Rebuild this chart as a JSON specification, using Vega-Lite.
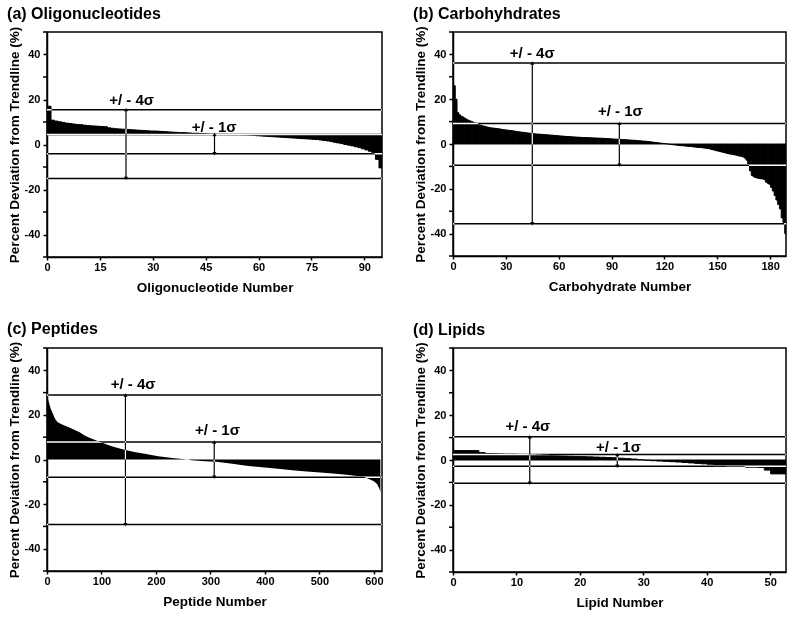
{
  "$schema": "https://vega.github.io/schema/vega-lite/v6.json",
  "background": "white",
  "padding": {"left": 6, "top": 5, "right": 4, "bottom": 2},
  "config": {
    "font": "Liberation Sans",
    "view": {"stroke": "black", "strokeWidth": 1.5},
    "axis": {"grid": false, "domainColor": "black", "domainWidth": 1.5, "tickColor": "black", "tickWidth": 1.5, "labelFont": "Liberation Sans", "labelFontSize": 11, "labelFontWeight": "bold", "labelColor": "black", "titleFont": "Liberation Sans", "titleFontSize": 13.5, "titleFontWeight": "bold", "titleColor": "black"},
    "axisX": {"labelFlush": false, "titlePadding": 8, "tickSize": 3, "labelPadding": 1},
    "axisY": {"titlePadding": 3, "tickSize": 4, "labelPadding": 3},
    "title": {"font": "Liberation Sans", "fontSize": 16, "fontWeight": "bold", "anchor": "start", "color": "black", "offset": 4}
  },
  "datasets": {
    "a": [{"i":0,"v":17},{"i":1,"v":10.8},{"i":2,"v":10.4},{"i":3,"v":10.1},{"i":4,"v":9.8},{"i":5,"v":9.5},{"i":6,"v":9.3},{"i":7,"v":9.1},{"i":8,"v":8.9},{"i":9,"v":8.8},{"i":10,"v":8.6},{"i":11,"v":8.4},{"i":12,"v":8.3},{"i":13,"v":8.2},{"i":14,"v":8.1},{"i":15,"v":8.0},{"i":16,"v":7.9},{"i":17,"v":7.4},{"i":18,"v":7.2},{"i":19,"v":7.0},{"i":20,"v":6.9},{"i":21,"v":6.8},{"i":22,"v":6.7},{"i":23,"v":6.6},{"i":24,"v":6.5},{"i":25,"v":6.4},{"i":26,"v":6.3},{"i":27,"v":6.2},{"i":28,"v":6.1},{"i":29,"v":6.0},{"i":30,"v":6.0},{"i":31,"v":5.9},{"i":32,"v":5.8},{"i":33,"v":5.7},{"i":34,"v":5.6},{"i":35,"v":5.5},{"i":36,"v":5.4},{"i":37,"v":5.3},{"i":38,"v":5.3},{"i":39,"v":5.2},{"i":40,"v":5.1},{"i":41,"v":5.0},{"i":42,"v":5.0},{"i":43,"v":4.9},{"i":44,"v":4.8},{"i":45,"v":4.7},{"i":46,"v":4.6},{"i":47,"v":4.6},{"i":48,"v":4.5},{"i":49,"v":4.5},{"i":50,"v":4.5},{"i":51,"v":4.4},{"i":52,"v":4.4},{"i":53,"v":4.4},{"i":54,"v":4.4},{"i":55,"v":4.3},{"i":56,"v":4.3},{"i":57,"v":4.2},{"i":58,"v":4.1},{"i":59,"v":3.9},{"i":60,"v":3.8},{"i":61,"v":3.7},{"i":62,"v":3.6},{"i":63,"v":3.5},{"i":64,"v":3.4},{"i":65,"v":3.3},{"i":66,"v":3.2},{"i":67,"v":3.1},{"i":68,"v":3.0},{"i":69,"v":2.9},{"i":70,"v":2.8},{"i":71,"v":2.7},{"i":72,"v":2.6},{"i":73,"v":2.5},{"i":74,"v":2.4},{"i":75,"v":2.3},{"i":76,"v":2.2},{"i":77,"v":2.0},{"i":78,"v":1.8},{"i":79,"v":1.6},{"i":80,"v":1.3},{"i":81,"v":1.0},{"i":82,"v":0.7},{"i":83,"v":0.4},{"i":84,"v":0.0},{"i":85,"v":-0.3},{"i":86,"v":-0.6},{"i":87,"v":-1.0},{"i":88,"v":-1.4},{"i":89,"v":-1.9},{"i":90,"v":-2.4},{"i":91,"v":-3.0},{"i":92,"v":-3.7},{"i":93,"v":-6.6},{"i":94,"v":-10.4}],
    "b": [{"i":0,"v":26},{"i":1,"v":20},{"i":2,"v":14},{"i":3,"v":13},{"i":4,"v":12.4},{"i":5,"v":12},{"i":6,"v":11.5},{"i":7,"v":11},{"i":8,"v":10.6},{"i":9,"v":10.3},{"i":10,"v":10},{"i":11,"v":9.6},{"i":12,"v":9.3},{"i":13,"v":9},{"i":14,"v":8.7},{"i":15,"v":8.4},{"i":16,"v":8.1},{"i":17,"v":7.9},{"i":18,"v":7.7},{"i":19,"v":7.5},{"i":20,"v":7.3},{"i":21,"v":7.2},{"i":22,"v":7.1},{"i":23,"v":7},{"i":24,"v":6.9},{"i":25,"v":6.8},{"i":26,"v":6.7},{"i":27,"v":6.5},{"i":28,"v":6.4},{"i":29,"v":6.3},{"i":30,"v":6.2},{"i":31,"v":6.1},{"i":32,"v":6},{"i":33,"v":5.9},{"i":34,"v":5.8},{"i":35,"v":5.6},{"i":36,"v":5.5},{"i":37,"v":5.4},{"i":38,"v":5.3},{"i":39,"v":5.2},{"i":40,"v":5.1},{"i":41,"v":5},{"i":42,"v":4.9},{"i":43,"v":4.8},{"i":44,"v":4.7},{"i":45,"v":4.6},{"i":46,"v":4.5},{"i":47,"v":4.45},{"i":48,"v":4.4},{"i":49,"v":4.35},{"i":50,"v":4.3},{"i":51,"v":4.2},{"i":52,"v":4.15},{"i":53,"v":4.1},{"i":54,"v":4},{"i":55,"v":3.95},{"i":56,"v":3.9},{"i":57,"v":3.8},{"i":58,"v":3.75},{"i":59,"v":3.7},{"i":60,"v":3.6},{"i":61,"v":3.55},{"i":62,"v":3.5},{"i":63,"v":3.4},{"i":64,"v":3.35},{"i":65,"v":3.3},{"i":66,"v":3.25},{"i":67,"v":3.2},{"i":68,"v":3.15},{"i":69,"v":3.1},{"i":70,"v":3.05},{"i":71,"v":3},{"i":72,"v":2.95},{"i":73,"v":2.9},{"i":74,"v":2.9},{"i":75,"v":2.85},{"i":76,"v":2.8},{"i":77,"v":2.8},{"i":78,"v":2.75},{"i":79,"v":2.7},{"i":80,"v":2.7},{"i":81,"v":2.65},{"i":82,"v":2.6},{"i":83,"v":2.6},{"i":84,"v":2.55},{"i":85,"v":2.5},{"i":86,"v":2.45},{"i":87,"v":2.4},{"i":88,"v":2.35},{"i":89,"v":2.3},{"i":90,"v":2.25},{"i":91,"v":2.2},{"i":92,"v":2.15},{"i":93,"v":2.1},{"i":94,"v":2.05},{"i":95,"v":2},{"i":96,"v":1.95},{"i":97,"v":1.9},{"i":98,"v":1.85},{"i":99,"v":1.8},{"i":100,"v":1.75},{"i":101,"v":1.7},{"i":102,"v":1.65},{"i":103,"v":1.6},{"i":104,"v":1.5},{"i":105,"v":1.45},{"i":106,"v":1.4},{"i":107,"v":1.3},{"i":108,"v":1.25},{"i":109,"v":1.2},{"i":110,"v":1.1},{"i":111,"v":1},{"i":112,"v":0.9},{"i":113,"v":0.8},{"i":114,"v":0.7},{"i":115,"v":0.6},{"i":116,"v":0.5},{"i":117,"v":0.4},{"i":118,"v":0.3},{"i":119,"v":0.2},{"i":120,"v":0.1},{"i":121,"v":0.02},{"i":122,"v":-0.1},{"i":123,"v":-0.2},{"i":124,"v":-0.3},{"i":125,"v":-0.4},{"i":126,"v":-0.5},{"i":127,"v":-0.6},{"i":128,"v":-0.7},{"i":129,"v":-0.75},{"i":130,"v":-0.8},{"i":131,"v":-0.9},{"i":132,"v":-1},{"i":133,"v":-1.05},{"i":134,"v":-1.1},{"i":135,"v":-1.2},{"i":136,"v":-1.3},{"i":137,"v":-1.4},{"i":138,"v":-1.5},{"i":139,"v":-1.55},{"i":140,"v":-1.6},{"i":141,"v":-1.7},{"i":142,"v":-1.8},{"i":143,"v":-1.9},{"i":144,"v":-2},{"i":145,"v":-2.2},{"i":146,"v":-2.4},{"i":147,"v":-2.6},{"i":148,"v":-2.8},{"i":149,"v":-3},{"i":150,"v":-3.2},{"i":151,"v":-3.4},{"i":152,"v":-3.6},{"i":153,"v":-3.8},{"i":154,"v":-4},{"i":155,"v":-4.2},{"i":156,"v":-4.4},{"i":157,"v":-4.5},{"i":158,"v":-4.7},{"i":159,"v":-4.8},{"i":160,"v":-5},{"i":161,"v":-5.2},{"i":162,"v":-5.4},{"i":163,"v":-5.5},{"i":164,"v":-5.8},{"i":165,"v":-6.3},{"i":166,"v":-7.2},{"i":167,"v":-9},{"i":168,"v":-12},{"i":169,"v":-14},{"i":170,"v":-14.6},{"i":171,"v":-15},{"i":172,"v":-15.2},{"i":173,"v":-15.4},{"i":174,"v":-15.5},{"i":175,"v":-15.6},{"i":176,"v":-15.8},{"i":177,"v":-17},{"i":178,"v":-17.5},{"i":179,"v":-18},{"i":180,"v":-19.4},{"i":181,"v":-21},{"i":182,"v":-23},{"i":183,"v":-25},{"i":184,"v":-27},{"i":185,"v":-29},{"i":186,"v":-33},{"i":187,"v":-35},{"i":188,"v":-40}],
    "c": [{"i":0,"v":29.5},{"i":1,"v":28},{"i":3,"v":26},{"i":7,"v":22.7},{"i":10,"v":21},{"i":13.5,"v":19},{"i":16,"v":17.8},{"i":19.6,"v":16.7},{"i":25,"v":16},{"i":32,"v":15.3},{"i":40,"v":14.5},{"i":50,"v":13.3},{"i":60,"v":12.2},{"i":69,"v":10.8},{"i":80,"v":9.5},{"i":93,"v":8.3},{"i":105,"v":7.2},{"i":120,"v":5.8},{"i":142,"v":4.4},{"i":160,"v":3.4},{"i":182,"v":2.5},{"i":204,"v":1.5},{"i":230,"v":0.7},{"i":253,"v":0.15},{"i":258,"v":0},{"i":265,"v":-0.3},{"i":290,"v":-0.8},{"i":311,"v":-1},{"i":340,"v":-1.9},{"i":366,"v":-2.8},{"i":400,"v":-3.6},{"i":428,"v":-4.3},{"i":460,"v":-5},{"i":489,"v":-5.6},{"i":520,"v":-6.2},{"i":550,"v":-6.8},{"i":581,"v":-7.7},{"i":593,"v":-9},{"i":600,"v":-9.8},{"i":606,"v":-11},{"i":610,"v":-13},{"i":612,"v":-14.5}],
    "d": [{"i":0,"v":4.2},{"i":1,"v":4.2},{"i":2,"v":4.2},{"i":3,"v":4.2},{"i":4,"v":3.3},{"i":5,"v":2.9},{"i":6,"v":2.8},{"i":7,"v":2.7},{"i":8,"v":2.6},{"i":9,"v":2.6},{"i":10,"v":2.5},{"i":11,"v":2.4},{"i":12,"v":2.3},{"i":13,"v":2.2},{"i":14,"v":2.1},{"i":15,"v":2},{"i":16,"v":1.9},{"i":17,"v":1.8},{"i":18,"v":1.7},{"i":19,"v":1.6},{"i":20,"v":1.5},{"i":21,"v":1.4},{"i":22,"v":1.3},{"i":23,"v":1.2},{"i":24,"v":1.1},{"i":25,"v":1},{"i":26,"v":0.8},{"i":27,"v":0.6},{"i":28,"v":0.4},{"i":29,"v":0.1},{"i":30,"v":-0.1},{"i":31,"v":-0.3},{"i":32,"v":-0.45},{"i":33,"v":-0.6},{"i":34,"v":-0.75},{"i":35,"v":-0.9},{"i":36,"v":-1.1},{"i":37,"v":-1.3},{"i":38,"v":-1.5},{"i":39,"v":-1.7},{"i":40,"v":-1.9},{"i":41,"v":-2.5},{"i":42,"v":-2.5},{"i":43,"v":-2.6},{"i":44,"v":-2.6},{"i":45,"v":-2.6},{"i":46,"v":-3.2},{"i":47,"v":-3.2},{"i":48,"v":-3.3},{"i":49,"v":-4.5},{"i":50,"v":-6.2},{"i":51,"v":-6.2},{"i":52,"v":-6.2}],
    "minor": [{"t":-50},{"t":-30},{"t":-10},{"t":10},{"t":30},{"t":50}],
    "lines": [{"panel":"a","y":15.5},{"panel":"a","y":4.4},{"panel":"a","y":-4.1},{"panel":"a","y":-15.1},{"panel":"b","y":36.2},{"panel":"b","y":9.2},{"panel":"b","y":-9.5},{"panel":"b","y":-35.6},{"panel":"c","y":28.9},{"panel":"c","y":7.85},{"panel":"c","y":-8},{"panel":"c","y":-29.2},{"panel":"d","y":10.4},{"panel":"d","y":2.4},{"panel":"d","y":-2.8},{"panel":"d","y":-10.4}],
    "arrows": [{"panel":"a","x":22.4,"y1":15.5,"y2":-15.1},{"panel":"a","x":47.5,"y1":4.4,"y2":-4.1},{"panel":"b","x":45,"y1":36.2,"y2":-35.6},{"panel":"b","x":94.4,"y1":9.2,"y2":-9.5},{"panel":"c","x":144,"y1":28.9,"y2":-29.2},{"panel":"c","x":307,"y1":7.85,"y2":-8},{"panel":"d","x":12.1,"y1":10.4,"y2":-10.4},{"panel":"d","x":25.9,"y1":2.4,"y2":-2.8}],
    "labels": [{"panel":"a","x":24,"y":20,"label":"+/ - 4σ"},{"panel":"a","x":47.4,"y":8,"label":"+/ - 1σ"},{"panel":"b","x":45,"y":40.6,"label":"+/ - 4σ"},{"panel":"b","x":95,"y":14.7,"label":"+/ - 1σ"},{"panel":"c","x":158,"y":33.8,"label":"+/ - 4σ"},{"panel":"c","x":313,"y":13.3,"label":"+/ - 1σ"},{"panel":"d","x":11.8,"y":15.4,"label":"+/ - 4σ"},{"panel":"d","x":26.1,"y":5.9,"label":"+/ - 1σ"}]
  },
  "vconcat": [
    {
      "hconcat": [
        {
          "title": "(a) Oligonucleotides",
          "width": 335, "height": 225,
          "layer": [
            {"data": {"name": "a"}, "mark": {"type": "bar", "color": "black", "stroke": "black", "strokeWidth": 1, "binSpacing": 0, "clip": true},
             "encoding": {
               "x": {"field": "i", "type": "quantitative", "bin": {"binned": true, "step": 1}, "scale": {"domain": [0, 95], "nice": false}, "axis": {"values": [0,15,30,45,60,75,90], "title": "Oligonucleotide Number"}},
               "y": {"field": "v", "type": "quantitative", "scale": {"domain": [-50, 50], "nice": false}, "axis": {"values": [-40,-20,0,20,40], "labelExpr": "replace(datum.label, '−', '-')", "title": "Percent Deviation from Trendline (%)"}},
               "y2": {"datum": 4.4}}},
            {"data": {"name": "minor"}, "mark": {"type": "tick", "orient": "horizontal", "color": "black", "thickness": 1.5, "size": 4, "xOffset": -2, "opacity": 1}, "encoding": {"x": {"datum": 0}, "y": {"field": "t", "type": "quantitative"}}},
            {"data": {"name": "lines"}, "transform": [{"filter": "datum.panel == 'a'"}], "mark": {"type": "rule", "color": "white", "strokeWidth": 1.5, "blend": "difference"}, "encoding": {"y": {"field": "y", "type": "quantitative"}}},
            {"data": {"name": "arrows"}, "transform": [{"filter": "datum.panel == 'a'"}], "mark": {"type": "rule", "color": "white", "strokeWidth": 1.2, "blend": "difference"}, "encoding": {"x": {"field": "x", "type": "quantitative"}, "y": {"field": "y1", "type": "quantitative"}, "y2": {"field": "y2"}}},
            {"data": {"name": "arrows"}, "transform": [{"filter": "datum.panel == 'a'"}, {"fold": ["y1", "y2"], "as": ["end", "yy"]}], "mark": {"type": "point", "filled": true, "color": "black", "opacity": 1, "size": 16}, "encoding": {"x": {"field": "x", "type": "quantitative"}, "y": {"field": "yy", "type": "quantitative"}, "shape": {"field": "end", "type": "nominal", "scale": {"domain": ["y1", "y2"], "range": ["triangle-up", "triangle-down"]}, "legend": null}}},
            {"data": {"name": "labels"}, "transform": [{"filter": "datum.panel == 'a'"}], "mark": {"type": "text", "font": "Liberation Sans", "fontSize": 15, "fontWeight": "bold", "baseline": "middle", "color": "black"}, "encoding": {"x": {"field": "x", "type": "quantitative"}, "y": {"field": "y", "type": "quantitative"}, "text": {"field": "label"}}}
          ]
        },
        {
          "title": "(b) Carbohyhdrates",
          "width": 333, "height": 224,
          "layer": [
            {"data": {"name": "b"}, "mark": {"type": "bar", "color": "black", "stroke": "black", "strokeWidth": 1, "binSpacing": 0, "clip": true},
             "encoding": {
               "x": {"field": "i", "type": "quantitative", "bin": {"binned": true, "step": 1}, "scale": {"domain": [0, 189], "nice": false}, "axis": {"values": [0,30,60,90,120,150,180], "title": "Carbohydrate Number"}},
               "y": {"field": "v", "type": "quantitative", "scale": {"domain": [-50, 50], "nice": false}, "axis": {"values": [-40,-20,0,20,40], "labelExpr": "replace(datum.label, '−', '-')", "title": "Percent Deviation from Trendline (%)"}},
               "y2": {"datum": 0}}},
            {"data": {"name": "minor"}, "mark": {"type": "tick", "orient": "horizontal", "color": "black", "thickness": 1.5, "size": 4, "xOffset": -2, "opacity": 1}, "encoding": {"x": {"datum": 0}, "y": {"field": "t", "type": "quantitative"}}},
            {"data": {"name": "lines"}, "transform": [{"filter": "datum.panel == 'b'"}], "mark": {"type": "rule", "color": "white", "strokeWidth": 1.5, "blend": "difference"}, "encoding": {"y": {"field": "y", "type": "quantitative"}}},
            {"data": {"name": "arrows"}, "transform": [{"filter": "datum.panel == 'b'"}], "mark": {"type": "rule", "color": "white", "strokeWidth": 1.2, "blend": "difference"}, "encoding": {"x": {"field": "x", "type": "quantitative"}, "y": {"field": "y1", "type": "quantitative"}, "y2": {"field": "y2"}}},
            {"data": {"name": "arrows"}, "transform": [{"filter": "datum.panel == 'b'"}, {"fold": ["y1", "y2"], "as": ["end", "yy"]}], "mark": {"type": "point", "filled": true, "color": "black", "opacity": 1, "size": 16}, "encoding": {"x": {"field": "x", "type": "quantitative"}, "y": {"field": "yy", "type": "quantitative"}, "shape": {"field": "end", "type": "nominal", "scale": {"domain": ["y1", "y2"], "range": ["triangle-up", "triangle-down"]}, "legend": null}}},
            {"data": {"name": "labels"}, "transform": [{"filter": "datum.panel == 'b'"}], "mark": {"type": "text", "font": "Liberation Sans", "fontSize": 15, "fontWeight": "bold", "baseline": "middle", "color": "black"}, "encoding": {"x": {"field": "x", "type": "quantitative"}, "y": {"field": "y", "type": "quantitative"}, "text": {"field": "label"}}}
          ]
        }
      ],
      "spacing": 28
    },
    {
      "hconcat": [
        {
          "title": "(c) Peptides",
          "width": 335, "height": 223,
          "layer": [
            {"data": {"name": "c"}, "mark": {"type": "area", "color": "black", "clip": true, "interpolate": "linear"},
             "encoding": {
               "x": {"field": "i", "type": "quantitative", "scale": {"domain": [0, 615], "nice": false}, "axis": {"values": [0,100,200,300,400,500,600], "title": "Peptide Number"}},
               "y": {"field": "v", "type": "quantitative", "scale": {"domain": [-50, 50], "nice": false}, "axis": {"values": [-40,-20,0,20,40], "labelExpr": "replace(datum.label, '−', '-')", "title": "Percent Deviation from Trendline (%)"}},
               "y2": {"datum": 0}}},
            {"data": {"name": "minor"}, "mark": {"type": "tick", "orient": "horizontal", "color": "black", "thickness": 1.5, "size": 4, "xOffset": -2, "opacity": 1}, "encoding": {"x": {"datum": 0}, "y": {"field": "t", "type": "quantitative"}}},
            {"data": {"name": "lines"}, "transform": [{"filter": "datum.panel == 'c'"}], "mark": {"type": "rule", "color": "white", "strokeWidth": 1.5, "blend": "difference"}, "encoding": {"y": {"field": "y", "type": "quantitative"}}},
            {"data": {"name": "arrows"}, "transform": [{"filter": "datum.panel == 'c'"}], "mark": {"type": "rule", "color": "white", "strokeWidth": 1.2, "blend": "difference"}, "encoding": {"x": {"field": "x", "type": "quantitative"}, "y": {"field": "y1", "type": "quantitative"}, "y2": {"field": "y2"}}},
            {"data": {"name": "arrows"}, "transform": [{"filter": "datum.panel == 'c'"}, {"fold": ["y1", "y2"], "as": ["end", "yy"]}], "mark": {"type": "point", "filled": true, "color": "black", "opacity": 1, "size": 16}, "encoding": {"x": {"field": "x", "type": "quantitative"}, "y": {"field": "yy", "type": "quantitative"}, "shape": {"field": "end", "type": "nominal", "scale": {"domain": ["y1", "y2"], "range": ["triangle-up", "triangle-down"]}, "legend": null}}},
            {"data": {"name": "labels"}, "transform": [{"filter": "datum.panel == 'c'"}], "mark": {"type": "text", "font": "Liberation Sans", "fontSize": 15, "fontWeight": "bold", "baseline": "middle", "color": "black"}, "encoding": {"x": {"field": "x", "type": "quantitative"}, "y": {"field": "y", "type": "quantitative"}, "text": {"field": "label"}}}
          ]
        },
        {
          "title": "(d) Lipids",
          "width": 333, "height": 224,
          "layer": [
            {"data": {"name": "d"}, "mark": {"type": "bar", "color": "black", "stroke": "black", "strokeWidth": 1, "binSpacing": 0, "clip": true},
             "encoding": {
               "x": {"field": "i", "type": "quantitative", "bin": {"binned": true, "step": 1}, "scale": {"domain": [0, 52.5], "nice": false}, "axis": {"values": [0,10,20,30,40,50], "title": "Lipid Number"}},
               "y": {"field": "v", "type": "quantitative", "scale": {"domain": [-50, 50], "nice": false}, "axis": {"values": [-40,-20,0,20,40], "labelExpr": "replace(datum.label, '−', '-')", "title": "Percent Deviation from Trendline (%)"}},
               "y2": {"datum": 0}}},
            {"data": {"name": "minor"}, "mark": {"type": "tick", "orient": "horizontal", "color": "black", "thickness": 1.5, "size": 4, "xOffset": -2, "opacity": 1}, "encoding": {"x": {"datum": 0}, "y": {"field": "t", "type": "quantitative"}}},
            {"data": {"name": "lines"}, "transform": [{"filter": "datum.panel == 'd'"}], "mark": {"type": "rule", "color": "white", "strokeWidth": 1.5, "blend": "difference"}, "encoding": {"y": {"field": "y", "type": "quantitative"}}},
            {"data": {"name": "arrows"}, "transform": [{"filter": "datum.panel == 'd'"}], "mark": {"type": "rule", "color": "white", "strokeWidth": 1.2, "blend": "difference"}, "encoding": {"x": {"field": "x", "type": "quantitative"}, "y": {"field": "y1", "type": "quantitative"}, "y2": {"field": "y2"}}},
            {"data": {"name": "arrows"}, "transform": [{"filter": "datum.panel == 'd'"}, {"fold": ["y1", "y2"], "as": ["end", "yy"]}], "mark": {"type": "point", "filled": true, "color": "black", "opacity": 1, "size": 16}, "encoding": {"x": {"field": "x", "type": "quantitative"}, "y": {"field": "yy", "type": "quantitative"}, "shape": {"field": "end", "type": "nominal", "scale": {"domain": ["y1", "y2"], "range": ["triangle-up", "triangle-down"]}, "legend": null}}},
            {"data": {"name": "labels"}, "transform": [{"filter": "datum.panel == 'd'"}], "mark": {"type": "text", "font": "Liberation Sans", "fontSize": 15, "fontWeight": "bold", "baseline": "middle", "color": "black"}, "encoding": {"x": {"field": "x", "type": "quantitative"}, "y": {"field": "y", "type": "quantitative"}, "text": {"field": "label"}}}
          ]
        }
      ],
      "spacing": 28
    }
  ],
  "spacing": 25
}
